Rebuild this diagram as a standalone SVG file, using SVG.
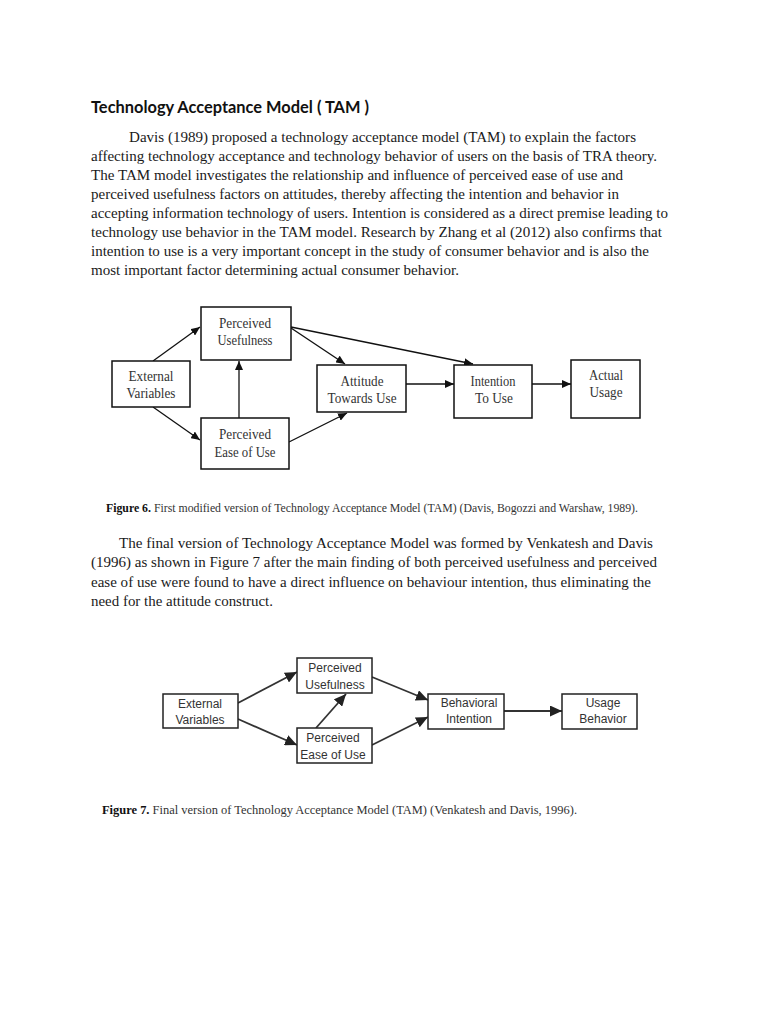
<svg xmlns="http://www.w3.org/2000/svg" width="768" height="1024" viewBox="0 0 768 1024">
<defs>
<style>
.title{font-family:Lato,"Open Sans","Liberation Sans",sans-serif;font-weight:bold;font-size:17px;fill:#111}
.p{font-family:"Liberation Serif","Times New Roman",serif;font-size:14.8px;fill:#1a1a1a}
.cap{font-family:"Liberation Serif","Times New Roman",serif;font-size:11.8px;fill:#333}
.capb{font-weight:bold;fill:#111}
.b6{fill:#fff;stroke:#111;stroke-width:1.5}
.t6{font-family:"Liberation Serif","Times New Roman",serif;font-size:15px;fill:#333;text-anchor:middle}
.c6{stroke:#111;stroke-width:1.3;fill:none;marker-end:url(#a6)}
.b7{fill:#fff;stroke:#222;stroke-width:1.5}
.t7{font-family:"Liberation Sans",Arial,sans-serif;font-size:12px;fill:#333;text-anchor:middle}
.c7{stroke:#333;stroke-width:1.8;fill:none;marker-end:url(#a7)}
</style>
<marker id="a6" markerUnits="userSpaceOnUse" markerWidth="10" markerHeight="8" refX="9" refY="4" orient="auto">
<path d="M0,0 L9,4 L0,8 Z" fill="#111"/>
</marker>
<marker id="a7" markerUnits="userSpaceOnUse" markerWidth="13" markerHeight="11" refX="12" refY="5.5" orient="auto">
<path d="M0,0 L12,5.5 L0,11 Z" fill="#222"/>
</marker>
</defs>
<rect width="768" height="1024" fill="#fff"/>

<text class="title" x="91" y="113" textLength="278" lengthAdjust="spacingAndGlyphs">Technology Acceptance Model ( TAM )</text>

<g id="para1">
<text class="p" x="129" y="142" textLength="507" lengthAdjust="spacingAndGlyphs">Davis (1989) proposed a technology acceptance model (TAM) to explain the factors</text>
<text class="p" x="91" y="161" textLength="566" lengthAdjust="spacingAndGlyphs">affecting technology acceptance and technology behavior of users on the basis of TRA theory.</text>
<text class="p" x="91" y="180" textLength="532" lengthAdjust="spacingAndGlyphs">The TAM model investigates the relationship and influence of perceived ease of use and</text>
<text class="p" x="91" y="199" textLength="528" lengthAdjust="spacingAndGlyphs">perceived usefulness factors on attitudes, thereby affecting the intention and behavior in</text>
<text class="p" x="91" y="218" textLength="577" lengthAdjust="spacingAndGlyphs">accepting information technology of users. Intention is considered as a direct premise leading to</text>
<text class="p" x="91" y="237" textLength="571" lengthAdjust="spacingAndGlyphs">technology use behavior in the TAM model. Research by Zhang et al (2012) also confirms that</text>
<text class="p" x="91" y="256" textLength="558" lengthAdjust="spacingAndGlyphs">intention to use is a very important concept in the study of consumer behavior and is also the</text>
<text class="p" x="91" y="275" textLength="368" lengthAdjust="spacingAndGlyphs">most important factor determining actual consumer behavior.</text>
</g>

<g id="fig6-connectors">
<line class="c6" x1="153" y1="361" x2="200" y2="327"/>
<line class="c6" x1="153" y1="407" x2="200" y2="440"/>
<line class="c6" x1="239" y1="418" x2="239" y2="361"/>
<line class="c6" x1="291" y1="328" x2="345" y2="364"/>
<line class="c6" x1="291" y1="327" x2="473" y2="364"/>
<line class="c6" x1="289" y1="442" x2="347" y2="413"/>
<line class="c6" x1="406" y1="384" x2="454" y2="384"/>
<line class="c6" x1="532" y1="384" x2="571" y2="384"/>
</g>

<g id="f6-ext">
<rect class="b6" x="112" y="361" width="78" height="46"/>
<text class="t6" x="151" y="381" textLength="45" lengthAdjust="spacingAndGlyphs">External</text>
<text class="t6" x="151" y="398" textLength="49" lengthAdjust="spacingAndGlyphs">Variables</text>
</g>
<g id="f6-pu">
<rect class="b6" x="201" y="307" width="90" height="53"/>
<text class="t6" x="245" y="328" textLength="52" lengthAdjust="spacingAndGlyphs">Perceived</text>
<text class="t6" x="245" y="345" textLength="55" lengthAdjust="spacingAndGlyphs">Usefulness</text>
</g>
<g id="f6-peou">
<rect class="b6" x="201" y="418" width="88" height="51"/>
<text class="t6" x="245" y="439" textLength="52" lengthAdjust="spacingAndGlyphs">Perceived</text>
<text class="t6" x="245" y="457" textLength="61" lengthAdjust="spacingAndGlyphs">Ease of Use</text>
</g>
<g id="f6-att">
<rect class="b6" x="317" y="365" width="89" height="47"/>
<text class="t6" x="362" y="386" textLength="43" lengthAdjust="spacingAndGlyphs">Attitude</text>
<text class="t6" x="362" y="403" textLength="69" lengthAdjust="spacingAndGlyphs">Towards Use</text>
</g>
<g id="f6-int">
<rect class="b6" x="454" y="365" width="78" height="53"/>
<text class="t6" x="493" y="386" textLength="45" lengthAdjust="spacingAndGlyphs">Intention</text>
<text class="t6" x="494" y="403" textLength="38" lengthAdjust="spacingAndGlyphs">To Use</text>
</g>
<g id="f6-act">
<rect class="b6" x="571" y="360" width="69" height="58"/>
<text class="t6" x="606" y="380" textLength="34" lengthAdjust="spacingAndGlyphs">Actual</text>
<text class="t6" x="606" y="397" textLength="33" lengthAdjust="spacingAndGlyphs">Usage</text>
</g>

<text class="cap" x="106" y="512" textLength="532" lengthAdjust="spacingAndGlyphs"><tspan class="capb">Figure 6.</tspan> First modified version of Technology Acceptance Model (TAM) (Davis, Bogozzi and Warshaw, 1989).</text>

<g id="para2">
<text class="p" x="119" y="548" textLength="534" lengthAdjust="spacingAndGlyphs">The final version of Technology Acceptance Model was formed by Venkatesh and Davis</text>
<text class="p" x="91" y="567" textLength="566" lengthAdjust="spacingAndGlyphs">(1996) as shown in Figure 7 after the main finding of both perceived usefulness and perceived</text>
<text class="p" x="91" y="587" textLength="560" lengthAdjust="spacingAndGlyphs">ease of use were found to have a direct influence on behaviour intention, thus eliminating the</text>
<text class="p" x="91" y="606" textLength="182" lengthAdjust="spacingAndGlyphs">need for the attitude construct.</text>
</g>

<g id="fig7-connectors">
<line class="c7" x1="238" y1="703" x2="297" y2="672"/>
<line class="c7" x1="238" y1="719" x2="297" y2="745"/>
<line class="c7" x1="316" y1="728" x2="346" y2="694"/>
<line class="c7" x1="372" y1="677" x2="428" y2="700"/>
<line class="c7" x1="372" y1="745" x2="428" y2="717"/>
<line class="c7" x1="504" y1="711" x2="562" y2="711"/>
</g>

<g id="f7-ext">
<rect class="b7" x="163" y="694" width="75" height="34"/>
<text class="t7" x="200" y="708">External</text>
<text class="t7" x="200" y="724">Variables</text>
</g>
<g id="f7-pu">
<rect class="b7" x="297" y="658" width="75" height="35"/>
<text class="t7" x="335" y="672">Perceived</text>
<text class="t7" x="335" y="689">Usefulness</text>
</g>
<g id="f7-peou">
<rect class="b7" x="297" y="728" width="75" height="35"/>
<text class="t7" x="333" y="742">Perceived</text>
<text class="t7" x="333" y="759">Ease of Use</text>
</g>
<g id="f7-bi">
<rect class="b7" x="428" y="694" width="76" height="35"/>
<text class="t7" x="469" y="707">Behavioral</text>
<text class="t7" x="469" y="723">Intention</text>
</g>
<g id="f7-ub">
<rect class="b7" x="562" y="694" width="75" height="35"/>
<text class="t7" x="603" y="707">Usage</text>
<text class="t7" x="603" y="723">Behavior</text>
</g>

<text class="cap" x="102" y="814" font-size="12" textLength="475" lengthAdjust="spacingAndGlyphs"><tspan class="capb">Figure 7.</tspan> Final version of Technology Acceptance Model (TAM) (Venkatesh and Davis, 1996).</text>
</svg>
